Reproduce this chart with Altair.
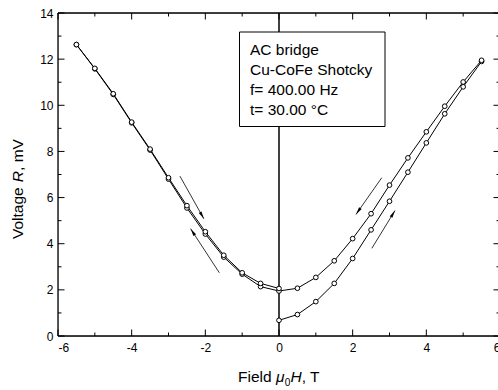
import math
import altair as alt
import pandas as pd

# Sweep 1: field raised from 0 T to +5.5 T
field_up = [0.0, 0.5, 1.0, 1.5, 2.0, 2.5, 3.0, 3.5, 4.0, 4.5, 5.0, 5.5]
volt_up = [0.68, 0.93, 1.49, 2.28, 3.36, 4.60, 5.84, 7.10, 8.37, 9.63, 10.80, 11.90]

# Sweep 2: field lowered from +5.5 T to -5.5 T
field_down = [5.5, 5.0, 4.5, 4.0, 3.5, 3.0, 2.5, 2.0, 1.5, 1.0, 0.5, 0.0,
              -0.5, -1.0, -1.5, -2.0, -2.5, -3.0, -3.5, -4.0, -4.5, -5.0, -5.5]
volt_down = [11.95, 11.01, 9.96, 8.85, 7.72, 6.54, 5.30, 4.22, 3.26, 2.54, 2.07, 1.95,
             2.14, 2.68, 3.42, 4.42, 5.55, 6.80, 8.06, 9.24, 10.47, 11.58, 12.63]

# Sweep 3: field returned from -5.5 T to 0 T
field_back = [-5.5, -5.0, -4.5, -4.0, -3.5, -3.0, -2.5, -2.0, -1.5, -1.0, -0.5, 0.0]
volt_back = [12.63, 11.60, 10.50, 9.27, 8.10, 6.86, 5.65, 4.52, 3.50, 2.74, 2.28, 2.06]

# Sweep-direction arrows (tail -> head), in data units
arrow_x0 = [-2.69, -1.62, 2.79, 2.52]
arrow_y0 = [6.93, 2.74, 6.86, 3.80]
arrow_x1 = [-2.04, -2.40, 2.09, 3.15]
arrow_y1 = [5.08, 4.65, 5.27, 5.44]

info_lines = ["AC bridge", "Cu-CoFe Shotcky", "f= 400.00 Hz", "t= 30.00 \u00b0C"]

x_major = [-6, -4, -2, 0, 2, 4, 6]
x_minor = [-5, -3, -1, 1, 3, 5]
y_major = [0, 2, 4, 6, 8, 10, 12, 14]
y_minor = [1, 3, 5, 7, 9, 11, 13]

W = 440          # plot width
XR = 442         # x range end (x = 6 sits just past the right edge)
H = 323          # plot height
FONT = "Liberation Sans"
TFS = 15.5       # axis title size
LFS = 12         # tick label size
MAJ, MIN = 6.5, 3.5

# plain hyphen for negative tick labels
HYPHEN_LABEL = "datum.value < 0 ? '-' + abs(datum.value) : '' + datum.value"

xs = alt.Scale(domain=[-6, 6], range=[0, XR], nice=False, zero=False)
ys = alt.Scale(domain=[0, 14], nice=False, zero=False)
x_axis = alt.Axis(values=x_major, title=None, grid=False, domain=False, ticks=False,
                  tickSize=0, labelPadding=6, labelFont=FONT, labelFontSize=LFS,
                  labelColor="black", labelExpr=HYPHEN_LABEL)
y_axis = alt.Axis(values=y_major, title=None, grid=False, domain=False, ticks=False,
                  tickSize=0, labelPadding=5, labelFont=FONT, labelFontSize=LFS,
                  labelColor="black", labelExpr=HYPHEN_LABEL)
X = alt.X("f:Q", scale=xs, axis=x_axis)
Y = alt.Y("v:Q", scale=ys, axis=y_axis)

rows = []
for name, fx, vy in [("up", field_up, volt_up), ("down", field_down, volt_down),
                     ("back", field_back, volt_back)]:
    for i, (a, b) in enumerate(zip(fx, vy)):
        rows.append({"sweep": name, "i": i, "f": a, "v": b})
curves = pd.DataFrame(rows)

sx, sy = XR / 12.0, H / 14.0
arrows = pd.DataFrame({"f": arrow_x0, "v": arrow_y0, "f2": arrow_x1, "v2": arrow_y1})
arrows["ang"] = [
    math.degrees(math.atan2((b - a) * sx, (d - c) * sy)) % 360
    for a, b, c, d in zip(arrow_x0, arrow_x1, arrow_y0, arrow_y1)
]
heads = pd.DataFrame({"f": arrow_x1, "v": arrow_y1, "ang": arrows["ang"]})

one = pd.DataFrame({"k": [0]})
layers = []

# plot frame (top, bottom, left)
frame = alt.Chart(one).mark_rule(color="black", strokeWidth=1.3)
layers += [
    frame.encode(x=alt.value(0), x2=alt.value(XR), y=alt.value(0)),
    frame.encode(x=alt.value(0), x2=alt.value(XR), y=alt.value(H)),
    frame.encode(x=alt.value(0), y=alt.value(0), y2=alt.value(H)),
]

# inward ticks on all four sides
for vals, ln in [(x_major, MAJ), (x_minor, MIN)]:
    d = pd.DataFrame({"f": vals})
    t = alt.Chart(d).mark_rule(color="black", strokeWidth=1)
    layers.append(t.encode(x=X, y=alt.value(H), y2=alt.value(H - ln)))
    layers.append(t.encode(x=X, y=alt.value(0), y2=alt.value(ln)))
for vals, ln in [(y_major, MAJ), (y_minor, MIN)]:
    d = pd.DataFrame({"v": vals})
    t = alt.Chart(d).mark_rule(color="black", strokeWidth=1)
    layers.append(t.encode(y=Y, x=alt.value(0), x2=alt.value(ln)))
    layers.append(t.encode(y=Y, x=alt.value(XR), x2=alt.value(XR - ln)))

# zero-field line
zero = pd.DataFrame({"f": [0.0], "v": [0.0], "v2": [14.0]})
layers.append(alt.Chart(zero).mark_rule(color="black", strokeWidth=1.5).encode(
    x=X, y=Y, y2=alt.Y2("v2:Q")))

# measured sweeps
layers.append(alt.Chart(curves).mark_line(color="black", strokeWidth=1).encode(
    x=X, y=Y, detail="sweep:N", order="i:Q"))
layers.append(alt.Chart(curves).mark_point(
    shape="circle", size=22, filled=True, fill="white", stroke="black",
    strokeWidth=1, opacity=1).encode(x=X, y=Y))

# arrows
layers.append(alt.Chart(arrows).mark_rule(color="black", strokeWidth=0.8).encode(
    x=X, y=Y, x2=alt.X2("f2:Q"), y2=alt.Y2("v2:Q")))
layers.append(alt.Chart(heads).mark_point(
    shape="M0,0L0.5,2.4L-0.5,2.4Z", size=40, filled=True, color="black",
    opacity=1).encode(x=X, y=Y, angle=alt.Angle("ang:Q", scale=None)))

# info box
layers.append(alt.Chart(one).mark_rect(fill="white", stroke="black", strokeWidth=1).encode(
    x=alt.value(181.5), x2=alt.value(327), y=alt.value(19), y2=alt.value(113.5)))
for k, line in enumerate(info_lines):
    layers.append(alt.Chart(one).mark_text(
        text=line, font=FONT, fontSize=15.5, align="left", baseline="alphabetic",
        color="black").encode(x=alt.value(192), y=alt.value(41.7 + 20 * k)))

# axis titles built from pieces (italic symbols, subscript)
ADV = {"Field ": 2.445, "\u03bc": 0.577, "0": 0.556, "H": 0.722, ", T": 1.167,
       "Voltage ": 3.669, "R": 0.722, ", mV": 2.056}

def pieces(parts):
    pos, out = 0.0, []
    for txt, style, scale, shift in parts:
        out.append((txt, style, scale, shift, pos))
        pos += ADV[txt] * TFS * scale
    return out

x_parts = pieces([("Field ", "normal", 1, 0), ("\u03bc", "italic", 1, 0),
                  ("0", "normal", 0.65, 4), ("H", "italic", 1, 0), (", T", "normal", 1, 0)])
for txt, style, scale, shift, pos in x_parts:
    layers.append(alt.Chart(one).mark_text(
        text=txt, font=FONT, fontSize=TFS * scale, fontStyle=style, align="left",
        baseline="alphabetic", color="black").encode(
        x=alt.value(180 + pos), y=alt.value(369 + shift)))

y_parts = pieces([("Voltage ", "normal", 1, 0), ("R", "italic", 1, 0), (", mV", "normal", 1, 0)])
for txt, style, scale, shift, pos in y_parts:
    layers.append(alt.Chart(one).mark_text(
        text=txt, font=FONT, fontSize=TFS, fontStyle=style, align="left",
        baseline="alphabetic", angle=270, color="black").encode(
        x=alt.value(-35), y=alt.value(226 - pos)))

chart = alt.layer(*layers).properties(
    width=W, height=H,
    autosize=alt.AutoSizeParams(type="none"),
    padding={"left": 58, "top": 13, "right": 0, "bottom": 54},
).configure_view(stroke=None).configure(background="white")

chart.save("out.html", embed_options={"renderer": "svg", "actions": False})
